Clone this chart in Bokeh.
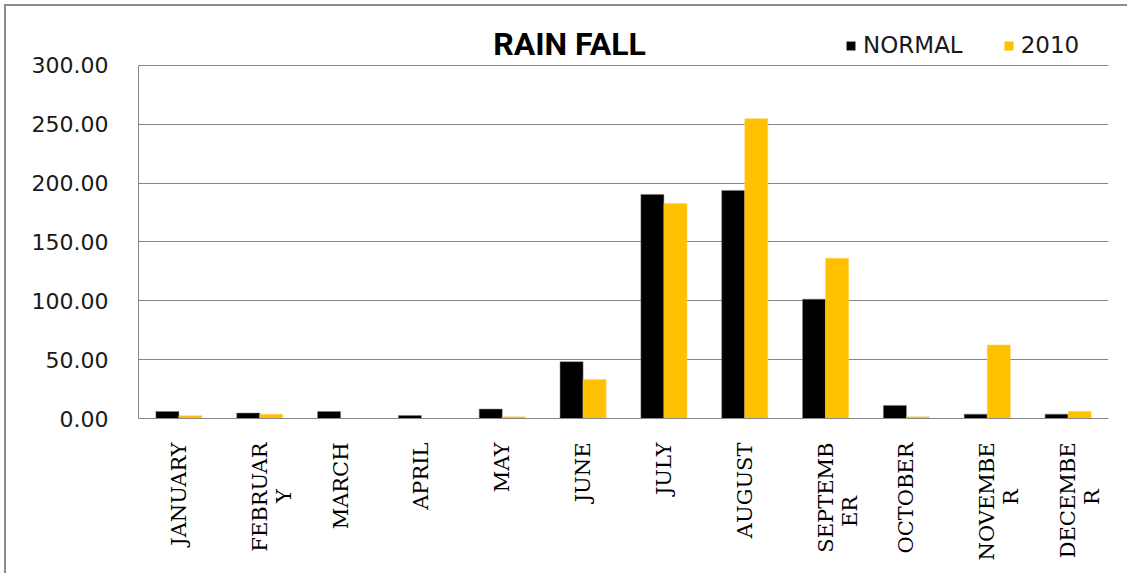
import math
from bokeh.plotting import figure
from bokeh.models import (ColumnDataSource, FactorRange, NumeralTickFormatter, FixedTicker,
                          Legend, LegendItem, Label, Range1d)
from bokeh.transform import dodge
from bokeh.embed import file_html
from bokeh.resources import INLINE

# tick labels as wrapped in the original chart (first part, wrapped remainder)
tick_labels = [("JANUARY", ""), ("FEBRUAR", "Y"), ("MARCH", ""), ("APRIL", ""), ("MAY", ""),
               ("JUNE", ""), ("JULY", ""), ("AUGUST", ""), ("SEPTEMB", "ER"), ("OCTOBER", ""),
               ("NOVEMBE", "R"), ("DECEMBE", "R")]
normal = [6.0, 4.6, 6.0, 2.6, 8.0, 48.3, 190.4, 193.8, 101.4, 11.1, 3.7, 3.7]
rain_2010 = [2.3, 3.7, 0.0, 0.0, 1.4, 33.2, 182.8, 254.8, 136.2, 1.4, 62.5, 6.0]
y_ticks = [0, 50, 100, 150, 200, 250, 300]

# wrapped labels: keep first line on the category centre, wrapped part centred beside it
NB = "\u00a0"
pads = {"Y": 7, "ER": 8, "R": 7}
factors = []
for first, rest in tick_labels:
    if rest:
        factors.append(NB + "\n" + first + "\n" + rest + NB * pads[rest])
    else:
        factors.append(first)

src = ColumnDataSource(dict(month=factors, normal=normal, y2010=rain_2010))

W, H = 1127, 573
p = figure(x_range=FactorRange(*factors), y_range=Range1d(0, 348.4),
           width=W, height=H, output_backend="svg", toolbar_location=None,
           min_border_left=138, min_border_right=19, min_border_top=8, min_border_bottom=155)
p.outline_line_color = None
p.background_fill_color = "white"
p.border_fill_color = None
p.styles = {
    "background": "linear-gradient(#8c8c8c, #8c8c8c) 4px 4px / 2px 100% no-repeat, "
                  "linear-gradient(#8c8c8c, #8c8c8c) 4px 4px / 100% 2px no-repeat, white"
}

bw = 0.285
r1 = p.vbar(x=dodge("month", -bw / 2, range=p.x_range), top="normal", width=bw, source=src,
            fill_color="#000000", line_color="#7f7f7f", line_width=0.5)
r2 = p.vbar(x=dodge("month", bw / 2, range=p.x_range), top="y2010", width=bw, source=src,
            fill_color="#FFC000", line_color="#FFD34D", line_width=0.5)

# axes
p.yaxis.bounds = (0, 300)
p.yaxis.ticker = FixedTicker(ticks=y_ticks)
p.yaxis.formatter = NumeralTickFormatter(format="0.00")
p.yaxis.major_tick_line_color = None
p.yaxis.minor_tick_line_color = None
p.yaxis.axis_line_color = "#868686"
p.yaxis.major_label_standoff = 24
p.yaxis.major_label_text_font = "DejaVu Sans"
p.yaxis.major_label_text_font_size = "22px"
p.yaxis.major_label_text_color = "#1a1a1a"

p.xaxis.major_tick_line_color = None
p.xaxis.minor_tick_line_color = None
p.xaxis.axis_line_color = "#868686"
p.xaxis.major_label_orientation = math.pi / 2
p.xaxis.major_label_standoff = 18
p.xaxis.major_label_text_font = "DejaVu Serif"
p.xaxis.major_label_text_font_size = "21px"
p.xaxis.major_label_text_line_height = 1.0
p.xaxis.major_label_text_color = "#000000"

p.xgrid.grid_line_color = None
p.ygrid.grid_line_color = "#868686"
p.ygrid.grid_line_width = 1
p.x_range.range_padding = 0
p.x_range.group_padding = 0

# legend (inside the extended frame, above the 300 line)
legend = Legend(items=[LegendItem(label="NORMAL", renderers=[r1]),
                       LegendItem(label="2010", renderers=[r2])],
                orientation="horizontal", location=(707, 360),
                glyph_width=11, glyph_height=11, label_standoff=7, spacing=40,
                label_height=26, padding=0, margin=0, border_line_color=None,
                background_fill_alpha=0,
                label_text_font="DejaVu Sans", label_text_font_size="23px",
                label_text_color="#1a1a1a")
p.add_layout(legend, "center")

# title
title = Label(x=431, y=375, x_units="screen", y_units="screen", text="RAIN FALL",
              text_font="Roboto", text_font_style="bold", text_font_size="32px",
              text_align="center", text_baseline="middle", text_color="#000000")
p.add_layout(title)

open("out.html", "w").write(file_html(p, INLINE))
